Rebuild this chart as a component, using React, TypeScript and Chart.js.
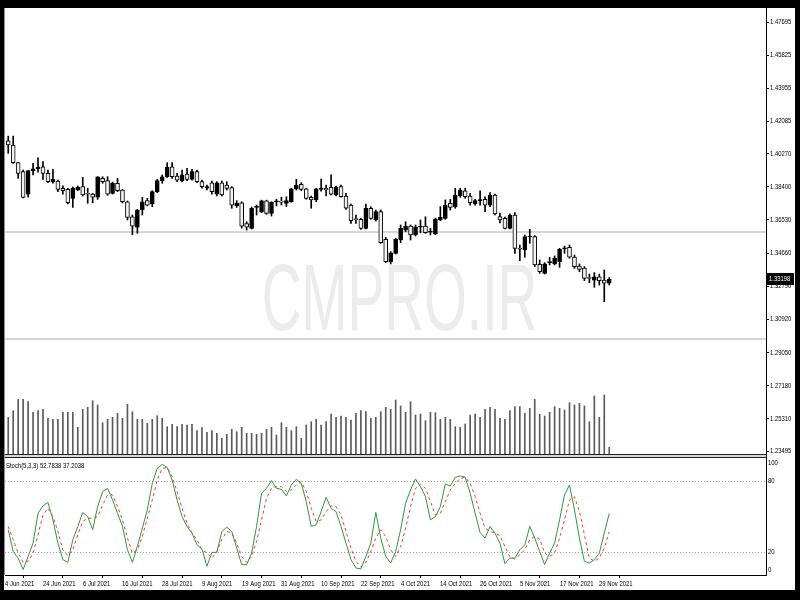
import React, { useEffect, useRef } from 'react';
import { Chart, registerables } from 'chart.js';

Chart.register(...registerables);

// ---- data (daily candles, one per bar index) ----
const openP = [
  1.4100, 1.4076, 1.3976, 1.3926, 1.3799, 1.3931, 1.3942, 1.3953, 1.3916, 1.3869,
  1.3873, 1.3831, 1.3826, 1.3775, 1.3822, 1.3841, 1.3800, 1.3799, 1.3781, 1.3888,
  1.3875, 1.3803, 1.3860, 1.3822, 1.3756, 1.3671, 1.3613, 1.3709, 1.3762, 1.3743,
  1.3813, 1.3875, 1.3897, 1.3953, 1.3901, 1.3875, 1.3912, 1.3882, 1.3926, 1.3869,
  1.3832, 1.3863, 1.3799, 1.3863, 1.3850, 1.3835, 1.3732, 1.3750, 1.3633, 1.3606,
  1.3724, 1.3699, 1.3761, 1.3690, 1.3755, 1.3757, 1.3747, 1.3756, 1.3828, 1.3854,
  1.3828, 1.3781, 1.3766, 1.3826, 1.3832, 1.3837, 1.3794, 1.3841, 1.3788, 1.3737,
  1.3657, 1.3657, 1.3606, 1.3719, 1.3653, 1.3700, 1.3544, 1.3418, 1.3465, 1.3540,
  1.3596, 1.3618, 1.3568, 1.3612, 1.3619, 1.3584, 1.3574, 1.3653, 1.3662, 1.3747,
  1.3728, 1.3788, 1.3818, 1.3788, 1.3743, 1.3762, 1.3770, 1.3737, 1.3794, 1.3672,
  1.3662, 1.3606, 1.3681, 1.3490, 1.3484, 1.3557, 1.3559, 1.3403, 1.3352, 1.3412,
  1.3405, 1.3418, 1.3490, 1.3499, 1.3443, 1.3393, 1.3381, 1.3325, 1.3314, 1.3333,
  1.3314, 1.3296,
];
const highP = [
  1.4126, 1.4126, 1.3976, 1.3935, 1.3931, 1.3973, 1.4003, 1.3982, 1.3935, 1.3939,
  1.3878, 1.3845, 1.3831, 1.3839, 1.3845, 1.3893, 1.3832, 1.3803, 1.3897, 1.3897,
  1.3897, 1.3867, 1.3888, 1.3825, 1.3760, 1.3681, 1.3713, 1.3781, 1.3775, 1.3818,
  1.3882, 1.3907, 1.3976, 1.3976, 1.3916, 1.3935, 1.3944, 1.3939, 1.3935, 1.3878,
  1.3850, 1.3873, 1.3869, 1.3873, 1.3869, 1.3841, 1.3762, 1.3756, 1.3643, 1.3726,
  1.3737, 1.3765, 1.3765, 1.3756, 1.3770, 1.3781, 1.3784, 1.3832, 1.3882, 1.3863,
  1.3832, 1.3788, 1.3832, 1.3884, 1.3850, 1.3907, 1.3844, 1.3850, 1.3803, 1.3743,
  1.3681, 1.3662, 1.3743, 1.3728, 1.3709, 1.3709, 1.3555, 1.3474, 1.3550, 1.3625,
  1.3643, 1.3625, 1.3625, 1.3653, 1.3671, 1.3606, 1.3664, 1.3728, 1.3766, 1.3769,
  1.3832, 1.3832, 1.3832, 1.3803, 1.3770, 1.3818, 1.3784, 1.3807, 1.3799, 1.3692,
  1.3670, 1.3687, 1.3694, 1.3512, 1.3568, 1.3600, 1.3565, 1.3427, 1.3412, 1.3442,
  1.3450, 1.3493, 1.3506, 1.3512, 1.3455, 1.3405, 1.3390, 1.3348, 1.3356, 1.3348,
  1.3371, 1.3328,
];
const lowP = [
  1.4029, 1.3972, 1.3888, 1.3778, 1.3781, 1.3907, 1.3923, 1.3882, 1.3863, 1.3860,
  1.3813, 1.3799, 1.3743, 1.3724, 1.3818, 1.3788, 1.3747, 1.3750, 1.3769, 1.3860,
  1.3792, 1.3799, 1.3813, 1.3749, 1.3653, 1.3570, 1.3578, 1.3681, 1.3732, 1.3728,
  1.3807, 1.3860, 1.3893, 1.3888, 1.3869, 1.3869, 1.3875, 1.3878, 1.3863, 1.3832,
  1.3822, 1.3799, 1.3788, 1.3788, 1.3822, 1.3719, 1.3724, 1.3607, 1.3596, 1.3602,
  1.3681, 1.3694, 1.3685, 1.3675, 1.3732, 1.3737, 1.3728, 1.3753, 1.3822, 1.3818,
  1.3770, 1.3719, 1.3756, 1.3815, 1.3788, 1.3794, 1.3788, 1.3781, 1.3713, 1.3634,
  1.3634, 1.3600, 1.3602, 1.3657, 1.3647, 1.3521, 1.3412, 1.3405, 1.3461, 1.3525,
  1.3587, 1.3540, 1.3562, 1.3581, 1.3578, 1.3568, 1.3570, 1.3649, 1.3657, 1.3709,
  1.3719, 1.3781, 1.3775, 1.3737, 1.3737, 1.3737, 1.3700, 1.3728, 1.3681, 1.3636,
  1.3602, 1.3602, 1.3465, 1.3423, 1.3443, 1.3521, 1.3390, 1.3352, 1.3348, 1.3399,
  1.3399, 1.3386, 1.3465, 1.3437, 1.3380, 1.3361, 1.3311, 1.3299, 1.3273, 1.3286,
  1.3192, 1.3286,
];
const closeP = [
  1.4076, 1.3976, 1.3916, 1.3780, 1.3931, 1.3942, 1.3951, 1.3916, 1.3869, 1.3882,
  1.3826, 1.3818, 1.3750, 1.3831, 1.3837, 1.3794, 1.3798, 1.3781, 1.3897, 1.3869,
  1.3799, 1.3860, 1.3818, 1.3756, 1.3668, 1.3618, 1.3709, 1.3756, 1.3737, 1.3813,
  1.3875, 1.3897, 1.3950, 1.3897, 1.3878, 1.3907, 1.3882, 1.3926, 1.3869, 1.3841,
  1.3841, 1.3813, 1.3863, 1.3794, 1.3831, 1.3737, 1.3747, 1.3618, 1.3613, 1.3719,
  1.3726, 1.3761, 1.3690, 1.3753, 1.3757, 1.3754, 1.3762, 1.3828, 1.3850, 1.3826,
  1.3775, 1.3766, 1.3828, 1.3830, 1.3822, 1.3798, 1.3837, 1.3784, 1.3719, 1.3649,
  1.3655, 1.3606, 1.3719, 1.3662, 1.3700, 1.3525, 1.3418, 1.3468, 1.3544, 1.3606,
  1.3618, 1.3568, 1.3615, 1.3614, 1.3581, 1.3586, 1.3657, 1.3668, 1.3737, 1.3724,
  1.3794, 1.3822, 1.3784, 1.3750, 1.3762, 1.3764, 1.3737, 1.3794, 1.3687, 1.3653,
  1.3606, 1.3681, 1.3493, 1.3488, 1.3559, 1.3560, 1.3399, 1.3361, 1.3405, 1.3414,
  1.3437, 1.3488, 1.3491, 1.3443, 1.3390, 1.3374, 1.3324, 1.3323, 1.3333, 1.3311,
  1.3296, 1.33198,
];
const volumes = [
  36700, 43300, 54700, 54700, 52300, 41700, 43300, 44700, 35700, 34700,
  34700, 41700, 41700, 41700, 26700, 44700, 46700, 53300, 49000, 31300,
  34700, 36700, 40700, 35700, 49700, 42300, 34700, 34700, 30700, 34700,
  38300, 35700, 27300, 29700, 27300, 29700, 29000, 29700, 23300, 26300,
  21700, 23300, 20700, 15700, 19700, 24700, 22300, 26700, 20700, 20700,
  19700, 20700, 24700, 26700, 19000, 31300, 26700, 23300, 27300, 15700,
  29000, 32300, 34700, 29000, 32300, 40000, 36700, 38000, 36700, 34000,
  40700, 43300, 42300, 35700, 36700, 42300, 46700, 44700, 54000, 48000,
  41700, 52300, 39000, 40000, 33300, 41700, 41300, 34700, 36700, 34700,
  27300, 26700, 30000, 39000, 40000, 36700, 44700, 46700, 44700, 35700,
  34700, 43300, 47300, 47300, 40700, 45700, 54700, 39700, 38000, 41700,
  47300, 45700, 44000, 51300, 49000, 50700, 48000, 32300, 58000, 36700,
  59000, 6700,
];
const stochK = [
  39.0, 20.8, 15.2, 5.5, 16.6, 27.8, 52.9, 59.1, 61.9, 47.3,
  27.8, 13.9, 11.6, 30.6, 41.8, 53.5, 50.1, 39.0, 58.5, 71.1,
  73.9, 64.1, 52.9, 41.8, 22.2, 11.6, 25.0, 40.4, 55.7, 78.0,
  90.6, 94.0, 91.4, 80.8, 64.1, 50.1, 41.8, 36.2, 26.4, 22.8,
  8.3, 20.0, 20.0, 37.6, 41.2, 37.6, 23.6, 9.7, 9.7, 19.4,
  41.8, 69.7, 73.9, 80.3, 73.9, 73.0, 67.4, 76.7, 81.4, 78.0,
  62.7, 41.8, 43.2, 54.3, 66.3, 57.1, 54.3, 41.8, 27.8, 13.9,
  6.9, 6.1, 16.6, 27.8, 53.5, 32.0, 16.6, 11.1, 20.8, 39.0,
  61.3, 72.5, 81.7, 75.3, 66.9, 47.3, 50.1, 58.5, 77.5, 75.8,
  83.1, 84.2, 83.1, 69.7, 52.9, 36.7, 32.0, 41.8, 36.2, 27.8,
  10.5, 15.2, 15.2, 22.2, 26.4, 41.8, 32.0, 20.8, 9.7, 19.4,
  27.8, 47.3, 68.3, 76.7, 55.7, 32.0, 12.5, 11.1, 13.9, 19.4,
  36.2, 52.7838,
];
const stochD = [
  41.8, 30.6, 19.4, 11.6, 12.5, 19.4, 34.8, 51.5, 57.1, 50.1,
  37.6, 22.2, 17.2, 22.2, 34.8, 46.0, 48.7, 48.7, 50.1, 59.9,
  68.3, 68.3, 58.5, 47.3, 32.0, 19.4, 22.2, 33.4, 48.7, 64.1,
  80.8, 90.6, 91.4, 83.6, 71.1, 57.1, 44.6, 36.2, 30.6, 22.2,
  19.4, 15.2, 20.8, 30.6, 37.6, 36.2, 27.8, 16.6, 11.6, 16.6,
  29.2, 47.3, 65.5, 73.9, 75.3, 75.3, 71.1, 72.5, 76.7, 79.4,
  71.1, 57.1, 46.0, 47.3, 54.3, 59.1, 58.5, 51.5, 37.6, 23.6,
  12.5, 7.8, 11.6, 20.8, 32.0, 39.0, 33.4, 22.2, 16.6, 25.0,
  40.4, 58.5, 73.9, 77.5, 73.9, 62.7, 51.5, 52.9, 62.7, 72.5,
  78.0, 82.2, 83.1, 78.0, 66.9, 52.9, 40.4, 37.6, 36.2, 33.9,
  25.0, 16.1, 14.4, 18.0, 22.2, 30.6, 33.4, 31.2, 19.4, 16.6,
  19.4, 32.0, 47.3, 64.1, 66.9, 54.3, 34.8, 15.2, 12.5, 15.2,
  23.6, 37.2038,
];
const xTickLabels = [
  '4 Jun 2021', '24 Jun 2021', '6 Jul 2021', '16 Jul 2021', '28 Jul 2021', '9 Aug 2021',
  '19 Aug 2021', '31 Aug 2021', '10 Sep 2021', '22 Sep 2021', '4 Oct 2021', '14 Oct 2021',
  '26 Oct 2021', '5 Nov 2021', '17 Nov 2021', '29 Nov 2021',
];
// bar index of every labelled date after the first (the first label sits at the left edge)
const xTickBars = [7, 15, 23, 31, 39, 47, 55, 63, 71, 79, 87, 95, 103, 111, 119];
const priceTicks = [
  1.47695, 1.45825, 1.43955, 1.42085, 1.4027, 1.384, 1.3653, 1.3466, 1.3279,
  1.3092, 1.2905, 1.2718, 1.2531, 1.23495,
];
const stochTickLabels = [100, 80, 20, 0];
const stochLevels = [80, 20];
const hLines = [1.3585, 1.2982];
const lastPrice = 1.33198;
const stochTitle = 'Stoch(5,3,3) 52.7838 37.2038';
const watermark = 'CMPRO.IR';

const FONT = "'Liberation Sans', Arial, sans-serif";
const SQUEEZE = 0.74;

function squeezedText(ctx: CanvasRenderingContext2D, text: string, x: number, y: number) {
  ctx.save();
  ctx.translate(x, y);
  ctx.scale(SQUEEZE, 1);
  ctx.fillText(text, 0, 0);
  ctx.restore();
}

export default function App() {
  const ref = useRef<HTMLCanvasElement>(null);

  useEffect(() => {
    if (!ref.current) return;
    const idx = openP.map((_, i) => i);
    const bodies = idx.map((i) => ({ x: i, y: [openP[i], closeP[i]] }));
    const wicks = idx.map((i) => ({ x: i, y: [lowP[i], highP[i]] }));
    const bodyColors = idx.map((i) => (closeP[i] > openP[i] ? '#000000' : '#f7f1f1'));
    const vols = idx.map((i) => ({ x: i, y: volumes[i] }));
    const kData = idx.map((i) => ({ x: i, y: stochK[i] }));
    const dData = idx.map((i) => ({ x: i, y: stochD[i] }));

    const extras = {
      id: 'extras',
      beforeDatasetsDraw(chart: any) {
        const { ctx, chartArea: a, scales } = chart;
        const py = scales.y;
        const ys = scales.yStoch;
        ctx.save();
        // watermark
        ctx.save();
        ctx.fillStyle = '#ececec';
        ctx.font = "95px 'Liberation Sans', Arial, sans-serif";
        ctx.textAlign = 'center';
        ctx.textBaseline = 'alphabetic';
        ctx.translate(chart.width / 2, 322);
        ctx.scale(0.58, 1);
        ctx.fillText(watermark, 0, 0);
        ctx.restore();
        // horizontal lines
        ctx.strokeStyle = '#c8c8c8';
        ctx.lineWidth = 1.5;
        hLines.forEach((v) => {
          const y = py.getPixelForValue(v);
          ctx.beginPath();
          ctx.moveTo(a.left, y);
          ctx.lineTo(a.right, y);
          ctx.stroke();
        });
        // stochastic levels
        ctx.strokeStyle = '#a0a0a0';
        ctx.lineWidth = 1;
        ctx.setLineDash([1, 2]);
        stochLevels.forEach((v) => {
          const y = Math.round(ys.getPixelForValue(v)) + 0.5;
          ctx.beginPath();
          ctx.moveTo(a.left, y);
          ctx.lineTo(a.right, y);
          ctx.stroke();
        });
        ctx.restore();
      },
      afterDraw(chart: any) {
        const { ctx, chartArea: a, scales } = chart;
        const py = scales.y;
        const ys = scales.yStoch;
        const sx = scales.x;
        ctx.save();
        // separator between panes
        const b = Math.round(py.bottom);
        ctx.fillStyle = '#d8d8d8';
        ctx.fillRect(a.left, b - 2, a.right - a.left, 3);
        ctx.fillStyle = '#202020';
        ctx.fillRect(a.left, b - 2, a.right - a.left, 1);
        ctx.fillRect(a.left, b + 1, a.right - a.left, 1);
        // left border
        ctx.fillStyle = '#909090';
        ctx.fillRect(a.left - 1, a.top, 1, a.bottom - a.top);

        ctx.fillStyle = '#000';
        ctx.font = `8px ${FONT}`;
        ctx.textAlign = 'left';
        ctx.textBaseline = 'middle';
        // price axis labels
        priceTicks.forEach((v) => {
          squeezedText(ctx, v.toFixed(5), a.right + 4, Math.round(py.getPixelForValue(v)));
        });
        // date labels
        sx.ticks.forEach((t: any, i: number) => {
          squeezedText(ctx, xTickLabels[i], Math.round(sx.getPixelForValue(t.value)), a.bottom + 9);
        });
        // stoch title
        squeezedText(ctx, stochTitle, a.left + 1, ys.top + 10);
        // stoch axis labels
        stochTickLabels.forEach((v) => {
          let y = ys.getPixelForValue(v);
          y = Math.min(Math.max(y, ys.top + 7), ys.bottom - 5);
          squeezedText(ctx, String(v), a.right + 2, Math.round(y));
        });
        // current price box
        const y = Math.round(py.getPixelForValue(lastPrice));
        ctx.fillStyle = '#000';
        ctx.fillRect(a.right + 1, y - 6, 27, 12);
        ctx.fillStyle = '#fff';
        squeezedText(ctx, lastPrice.toFixed(5), a.right + 3, y);
        ctx.restore();
      },
    };

    const chart = new Chart(ref.current, {
      type: 'bar',
      data: {
        datasets: [
          {
            type: 'bar', label: 'body', data: bodies as any, yAxisID: 'y',
            backgroundColor: bodyColors, borderColor: '#000', borderWidth: 1,
            borderSkipped: false, barThickness: 4, minBarLength: 1, grouped: false, order: 1,
          } as any,
          {
            type: 'bar', label: 'wick', data: wicks as any, yAxisID: 'y',
            backgroundColor: '#000', borderWidth: 0, barThickness: 1, grouped: false, order: 2,
          } as any,
          {
            type: 'bar', label: 'volume', data: vols as any, yAxisID: 'yVol',
            backgroundColor: '#5a5a5a', borderWidth: 0, barThickness: 1, grouped: false, order: 3,
          } as any,
          {
            type: 'line', label: 'main', data: kData as any, yAxisID: 'yStoch',
            borderColor: '#2c9a3c', borderWidth: 1, pointRadius: 0, tension: 0, order: 0,
          } as any,
          {
            type: 'line', label: 'signal', data: dData as any, yAxisID: 'yStoch',
            borderColor: '#ff3333', borderWidth: 1, borderDash: [3, 3], pointRadius: 0, tension: 0, order: 0,
          } as any,
        ],
      },
      options: {
        animation: false,
        responsive: false,
        devicePixelRatio: 1,
        layout: { padding: { left: 1, top: 0, right: 0, bottom: 0 } },
        plugins: { legend: { display: false }, tooltip: { enabled: false } },
        scales: {
          x: {
            type: 'linear', min: -0.65, max: 152.56, offset: false,
            afterBuildTicks: (s: any) => {
              s.ticks = [{ value: s.min }, ...xTickBars.map((v) => ({ value: v }))];
            },
            afterFit: (s: any) => { s.height = 15; },
            ticks: { display: false, autoSkip: false },
            grid: {
              drawOnChartArea: false, tickLength: 3,
              color: (c: any) => (c.index === 0 ? 'rgba(0,0,0,0)' : '#000'),
            },
            border: { color: '#000', width: 1 },
          },
          y: {
            type: 'linear', position: 'right', stack: 'panes', stackWeight: 448,
            min: 1.23218, max: 1.48485,
            afterBuildTicks: (s: any) => { s.ticks = priceTicks.map((v) => ({ value: v })); },
            afterFit: (s: any) => { s.width = 29; },
            ticks: { display: false, autoSkip: false },
            grid: { drawOnChartArea: false, tickLength: 3, color: '#000' },
            border: { color: '#000', width: 1 },
          },
          yStoch: {
            type: 'linear', position: 'right', stack: 'panes', stackWeight: 119,
            min: 1, max: 101,
            afterFit: (s: any) => { s.width = 29; },
            ticks: { display: false },
            grid: { display: false },
            border: { color: '#000', width: 1 },
          },
          yVol: {
            type: 'linear', position: 'left', display: false,
            min: -121000, max: 446000,
          },
        },
      } as any,
      plugins: [extras],
    });
    return () => chart.destroy();
  }, []);

  return (
    <div style={{ position: 'absolute', left: 0, top: 0, width: 800, height: 600, background: '#000' }}>
      <canvas
        ref={ref}
        width={791}
        height={582}
        style={{ position: 'absolute', left: 4, top: 8, width: 791, height: 582, background: '#fff' }}
      />
    </div>
  );
}
